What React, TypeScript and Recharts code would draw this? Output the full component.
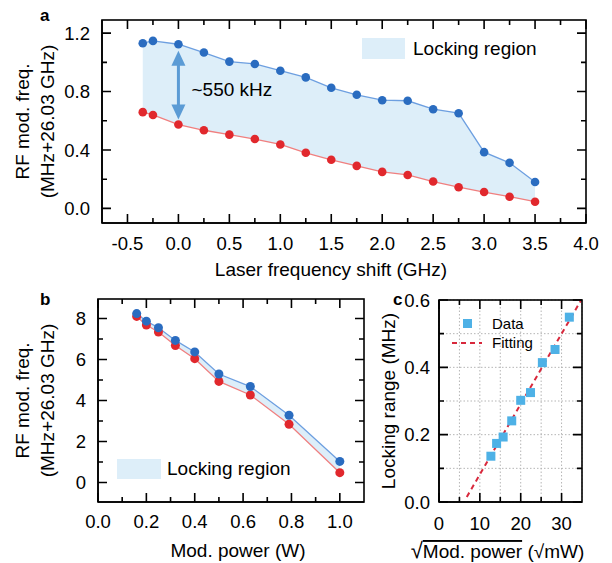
import React from 'react'
import {
  ComposedChart,
  Line,
  Area,
  Scatter,
  XAxis,
  YAxis,
  CartesianGrid,
  ReferenceLine,
  ReferenceDot,
} from 'recharts'

// panel a: locking region vs laser frequency shift
const shiftGHz = [-0.35, -0.25, 0, 0.25, 0.5, 0.75, 1.0, 1.25, 1.5, 1.75, 2.0, 2.25, 2.5, 2.75, 3.0, 3.25, 3.5]
const upperA = [1.131, 1.147, 1.124, 1.067, 1.005, 0.989, 0.943, 0.897, 0.826, 0.778, 0.741, 0.737, 0.679, 0.652, 0.385, 0.312, 0.181]
const lowerA = [0.659, 0.64, 0.574, 0.535, 0.505, 0.475, 0.438, 0.381, 0.333, 0.291, 0.25, 0.229, 0.184, 0.145, 0.112, 0.08, 0.046]

// panel b: locking region vs modulation power
const powerW = [0.16, 0.2, 0.25, 0.32, 0.4, 0.5, 0.63, 0.79, 1.0]
const upperB = [8.24, 7.87, 7.55, 6.93, 6.37, 5.29, 4.68, 3.28, 1.03]
const lowerB = [8.1, 7.68, 7.34, 6.68, 6.04, 4.93, 4.27, 2.84, 0.48]

// panel c: locking range vs sqrt(power)
const sqrtPower = [12.7, 14.1, 15.7, 17.8, 20.0, 22.4, 25.3, 28.4, 31.9]
const lockRange = [0.136, 0.174, 0.193, 0.241, 0.302, 0.325, 0.414, 0.453, 0.549]
const fitX = [6.8, 34.8]
const fitY = [0.015, 0.6]

const domAX = [-0.75, 4]
const domAY = [-0.1, 1.29]
const domBX = [0, 1.1]
const domBY = [-0.95, 8.95]
const domCX = [0, 35]
const domCY = [0, 0.6]

const ticksAX = [-0.5, -0.25, 0, 0.25, 0.5, 0.75, 1, 1.25, 1.5, 1.75, 2, 2.25, 2.5, 2.75, 3, 3.25, 3.5, 3.75, 4]
const ticksAY = [0, 0.2, 0.4, 0.6, 0.8, 1.0, 1.2]
const ticksBX = [0, 0.1, 0.2, 0.3, 0.4, 0.5, 0.6, 0.7, 0.8, 0.9, 1.0]
const ticksBY = [0, 1, 2, 3, 4, 5, 6, 7, 8]
const ticksCX = [0, 5, 10, 15, 20, 25, 30]
const ticksCY = [0, 0.1, 0.2, 0.3, 0.4, 0.5, 0.6]

const rowsA = shiftGHz.map((x, i) => ({ x, upper: upperA[i], lower: lowerA[i], band: [lowerA[i], upperA[i]] }))
const rowsB = powerW.map((x, i) => ({ x, upper: upperB[i], lower: lowerB[i], band: [lowerB[i], upperB[i]] }))
const rowsC = sqrtPower.map((x, i) => ({ x, y: lockRange[i] }))
const rowsFit = fitX.map((x, i) => ({ x, y: fitY[i] }))

const FONT = '"Liberation Sans", Arial, Helvetica, sans-serif'
const TICK_FONT = 18.5
const TITLE_FONT = 19
const BAND = '#ddeef9'
const BLUE_DOT = '#2a6cc0'
const BLUE_LINE = '#6d9fe0'
const RED_DOT = '#e1282d'
const RED_LINE = '#f07f7f'
const SQUARE = '#4eb1e6'
const FIT = '#d8283c'
const FRAME_W = 1.6

const isMajor = (v: number, step: number) => Math.abs(v / step - Math.round(v / step)) < 1e-6
const majorsOf = (ticks: number[], step: number) => ticks.filter(v => isMajor(v, step))

// plot boxes on the page (left, top, width, height), matching each chart's margins and axis sizes
const boxA = [102, 20, 612 - 102 - 26, 280 - 20 - 57]
const boxB = [98, 280 + 19, 380 - 98 - 16, 283 - 19 - 61]
const boxC = [370 + 69, 280 + 20, 242 - 69 - 30, 283 - 20 - 61]

const xTitle = (content: React.ReactNode, dy: number, dx = 0) => (p: any) => {
  const vb = p.viewBox
  return (
    <text x={vb.x + vb.width / 2 + dx} y={vb.y + dy} textAnchor="middle" fontSize={TITLE_FONT} fill="#000">
      {content}
    </text>
  )
}

const yTitle = (lines: string[], xs: number[]) => (p: any) => {
  const vb = p.viewBox
  const cy = vb.y + vb.height / 2
  return (
    <g>
      {lines.map((t, i) => {
        const cx = vb.x + xs[i]
        return (
          <text key={t} x={cx} y={cy} dy="0.36em" textAnchor="middle" fontSize={TITLE_FONT} fill="#000"
            transform={`rotate(-90 ${cx} ${cy})`}>
            {t}
          </text>
        )
      })}
    </g>
  )
}

const arrowShape = (p: any) => {
  const x = p.x1
  const top = Math.min(p.y1, p.y2)
  const bot = Math.max(p.y1, p.y2)
  const hw = 7
  const hh = 15
  return (
    <g fill="#5b9bd5" stroke="none">
      <rect x={x - 1.5} y={top + hh - 1} width={3} height={bot - top - 2 * hh + 2} />
      <polygon points={`${x},${top} ${x - hw},${top + hh} ${x + hw},${top + hh}`} />
      <polygon points={`${x},${bot} ${x - hw},${bot - hh} ${x + hw},${bot - hh}`} />
    </g>
  )
}

const squareShape = (p: any) => (
  <rect x={p.cx - 4.5} y={p.cy - 4.5} width={9} height={9} fill={SQUARE} />
)

const fmt1 = (v: number) => v.toFixed(1)
const fmt0 = (v: number) => v.toFixed(0)
const tickText = { fill: '#000', fontSize: TICK_FONT }
const frameLine = { stroke: '#000', strokeWidth: FRAME_W }

function PanelA() {
  return (
    <ComposedChart width={612} height={280} data={rowsA} margin={{ top: 20, right: 26, bottom: 0, left: 0 }}>
      <XAxis type="number" dataKey="x" domain={domAX} ticks={majorsOf(ticksAX, 0.5)} interval={0} height={57}
        axisLine={frameLine} tickLine={false} tickMargin={8} tick={tickText} tickFormatter={fmt1}
        label={{ content: xTitle('Laser frequency shift (GHz)', 52.5, -13) }} />
      <YAxis type="number" domain={domAY} ticks={majorsOf(ticksAY, 0.4)} interval={0} width={102}
        axisLine={frameLine} tickLine={false} tickMargin={6} tick={tickText} tickFormatter={fmt1}
        label={{ content: yTitle(['RF mod. freq.', '(MHz+26.03 GHz)'], [22, 47]) }} />
      <Area type="linear" dataKey="band" fill={BAND} fillOpacity={1} stroke="none" activeDot={false}
        isAnimationActive={false} />
      <Line type="linear" dataKey="lower" stroke={RED_LINE} strokeWidth={1.3}
        dot={{ r: 4.3, fill: RED_DOT, stroke: 'none' }} activeDot={false} isAnimationActive={false} />
      <Line type="linear" dataKey="upper" stroke={BLUE_LINE} strokeWidth={1.3}
        dot={{ r: 4.3, fill: BLUE_DOT, stroke: 'none' }} activeDot={false} isAnimationActive={false} />
      <ReferenceLine segment={[{ x: 0, y: 1.079 }, { x: 0, y: 0.608 }]} shape={arrowShape} />
      <ReferenceDot x={0.05} y={0.813} r={0} fill="none" stroke="none"
        label={{ value: '~550 kHz', position: 'right', offset: 8, fontSize: TITLE_FONT, fill: '#000' }} />
    </ComposedChart>
  )
}

function PanelB() {
  return (
    <ComposedChart width={380} height={283} data={rowsB} margin={{ top: 19, right: 16, bottom: 0, left: 0 }}>
      <XAxis type="number" dataKey="x" domain={domBX} ticks={majorsOf(ticksBX, 0.2)} interval={0} height={61}
        axisLine={frameLine} tickLine={false} tickMargin={7} tick={tickText} tickFormatter={fmt1}
        label={{ content: xTitle('Mod. power (W)', 55, 7) }} />
      <YAxis type="number" domain={domBY} ticks={majorsOf(ticksBY, 2)} interval={0} width={98}
        axisLine={frameLine} tickLine={false} tickMargin={6} tick={tickText} tickFormatter={fmt0}
        label={{ content: yTitle(['RF mod. freq.', '(MHz+26.03 GHz)'], [22, 47]) }} />
      <Area type="linear" dataKey="band" fill={BAND} fillOpacity={1} stroke="none" activeDot={false}
        isAnimationActive={false} />
      <Line type="linear" dataKey="lower" stroke={RED_LINE} strokeWidth={1.3}
        dot={{ r: 4.5, fill: RED_DOT, stroke: 'none' }} activeDot={false} isAnimationActive={false} />
      <Line type="linear" dataKey="upper" stroke={BLUE_LINE} strokeWidth={1.3}
        dot={{ r: 4.5, fill: BLUE_DOT, stroke: 'none' }} activeDot={false} isAnimationActive={false} />
    </ComposedChart>
  )
}

function PanelC() {
  const sqrtTitle = (
    <>
      <tspan fontSize={22}>√</tspan>
      <tspan style={{ textDecoration: 'overline' }}>Mod. power</tspan>
      <tspan> (√mW)</tspan>
    </>
  )
  return (
    <ComposedChart width={242} height={283} margin={{ top: 20, right: 30, bottom: 0, left: 0 }}>
      <CartesianGrid stroke="#b5b5b5" strokeDasharray="1.5 2" />
      <XAxis type="number" dataKey="x" domain={domCX} ticks={ticksCX} interval={0} height={61}
        axisLine={frameLine} tickLine={false} tickMargin={9} tick={tickText}
        tickFormatter={(v: number) => (isMajor(v, 10) ? fmt0(v) : '')}
        label={{ content: xTitle(sqrtTitle, 56, -13) }} />
      <YAxis type="number" dataKey="y" domain={domCY} ticks={ticksCY} interval={0} width={69}
        axisLine={frameLine} tickLine={false} tickMargin={3} tick={tickText}
        tickFormatter={(v: number) => (isMajor(v, 0.2) ? fmt1(v) : '')}
        label={{ content: yTitle(['Locking range (MHz)'], [18]) }} />
      <Scatter data={rowsC} dataKey="y" shape={squareShape} isAnimationActive={false} />
      <Line data={rowsFit} type="linear" dataKey="y" stroke={FIT} strokeWidth={2} strokeDasharray="5 4"
        dot={false} activeDot={false} isAnimationActive={false} />
    </ComposedChart>
  )
}

// box frame with inward major/minor ticks on all four sides
function Frame({ box, domX, domY, ticksX, ticksY, stepX, stepY }: {
  box: number[]; domX: number[]; domY: number[]; ticksX: number[]; ticksY: number[]; stepX: number; stepY: number
}) {
  const [l, t, w, h] = box
  const r = l + w
  const b = t + h
  const px = (v: number) => l + ((v - domX[0]) / (domX[1] - domX[0])) * w
  const py = (v: number) => b - ((v - domY[0]) / (domY[1] - domY[0])) * h
  let d = ''
  ticksX.forEach(v => {
    const len = isMajor(v, stepX) ? 9 : 5
    const x = px(v)
    d += `M${x},${b}V${b - len}M${x},${t}V${t + len}`
  })
  ticksY.forEach(v => {
    const len = isMajor(v, stepY) ? 9 : 5
    const y = py(v)
    d += `M${l},${y}H${l + len}M${r},${y}H${r - len}`
  })
  return (
    <g>
      <path d={d} stroke="#000" strokeWidth={FRAME_W} fill="none" />
      <rect x={l} y={t} width={w} height={h} stroke="#000" strokeWidth={FRAME_W} fill="none" />
    </g>
  )
}

const panelLetter = (text: string, left: number, top: number) => (
  <div style={{ position: 'absolute', left, top, fontSize: 17, lineHeight: '17px', fontWeight: 'bold' }}>{text}</div>
)

function BandKey({ left, top, w, h, gap }: { left: number; top: number; w: number; h: number; gap: number }) {
  return (
    <div style={{ position: 'absolute', left, top, display: 'flex', alignItems: 'center', height: h }}>
      <div style={{ width: w, height: h, background: BAND }} />
      <span style={{ marginLeft: gap, fontSize: TITLE_FONT, lineHeight: `${h}px`, whiteSpace: 'nowrap' }}>Locking region</span>
    </div>
  )
}

function FitKey() {
  const row = { display: 'flex', alignItems: 'center', height: 19 } as const
  return (
    <div style={{ position: 'absolute', left: 452, top: 314, fontSize: 15 }}>
      <div style={row}>
        <div style={{ width: 30, display: 'flex', justifyContent: 'center' }}>
          <div style={{ width: 9, height: 9, background: SQUARE }} />
        </div>
        <span style={{ marginLeft: 10 }}>Data</span>
      </div>
      <div style={row}>
        <svg width={30} height={4} style={{ display: 'block' }}>
          <line x1={0} y1={2} x2={30} y2={2} stroke={FIT} strokeWidth={2} strokeDasharray="5 4" />
        </svg>
        <span style={{ marginLeft: 10 }}>Fitting</span>
      </div>
    </div>
  )
}

export default function App() {
  return (
    <div style={{ position: 'absolute', left: 0, top: 0, width: 612, height: 563, background: '#fff', fontFamily: FONT, color: '#000' }}>
      <div style={{ position: 'absolute', left: 0, top: 0 }}>
        <PanelA />
      </div>
      <div style={{ position: 'absolute', left: 0, top: 280 }}>
        <PanelB />
      </div>
      <div style={{ position: 'absolute', left: 370, top: 280 }}>
        <PanelC />
      </div>
      <svg width={612} height={563} style={{ position: 'absolute', left: 0, top: 0, pointerEvents: 'none' }}>
        <Frame box={boxA} domX={domAX} domY={domAY} ticksX={ticksAX} ticksY={ticksAY} stepX={0.5} stepY={0.4} />
        <Frame box={boxB} domX={domBX} domY={domBY} ticksX={ticksBX} ticksY={ticksBY} stepX={0.2} stepY={2} />
        <Frame box={boxC} domX={domCX} domY={domCY} ticksX={ticksCX} ticksY={ticksCY} stepX={10} stepY={0.2} />
      </svg>
      <BandKey left={362} top={38} w={43} h={21} gap={8} />
      <BandKey left={117} top={459} w={44} h={20} gap={6} />
      <FitKey />
      {panelLetter('a', 40, 7)}
      {panelLetter('b', 40, 291)}
      {panelLetter('c', 393, 291)}
    </div>
  )
}
